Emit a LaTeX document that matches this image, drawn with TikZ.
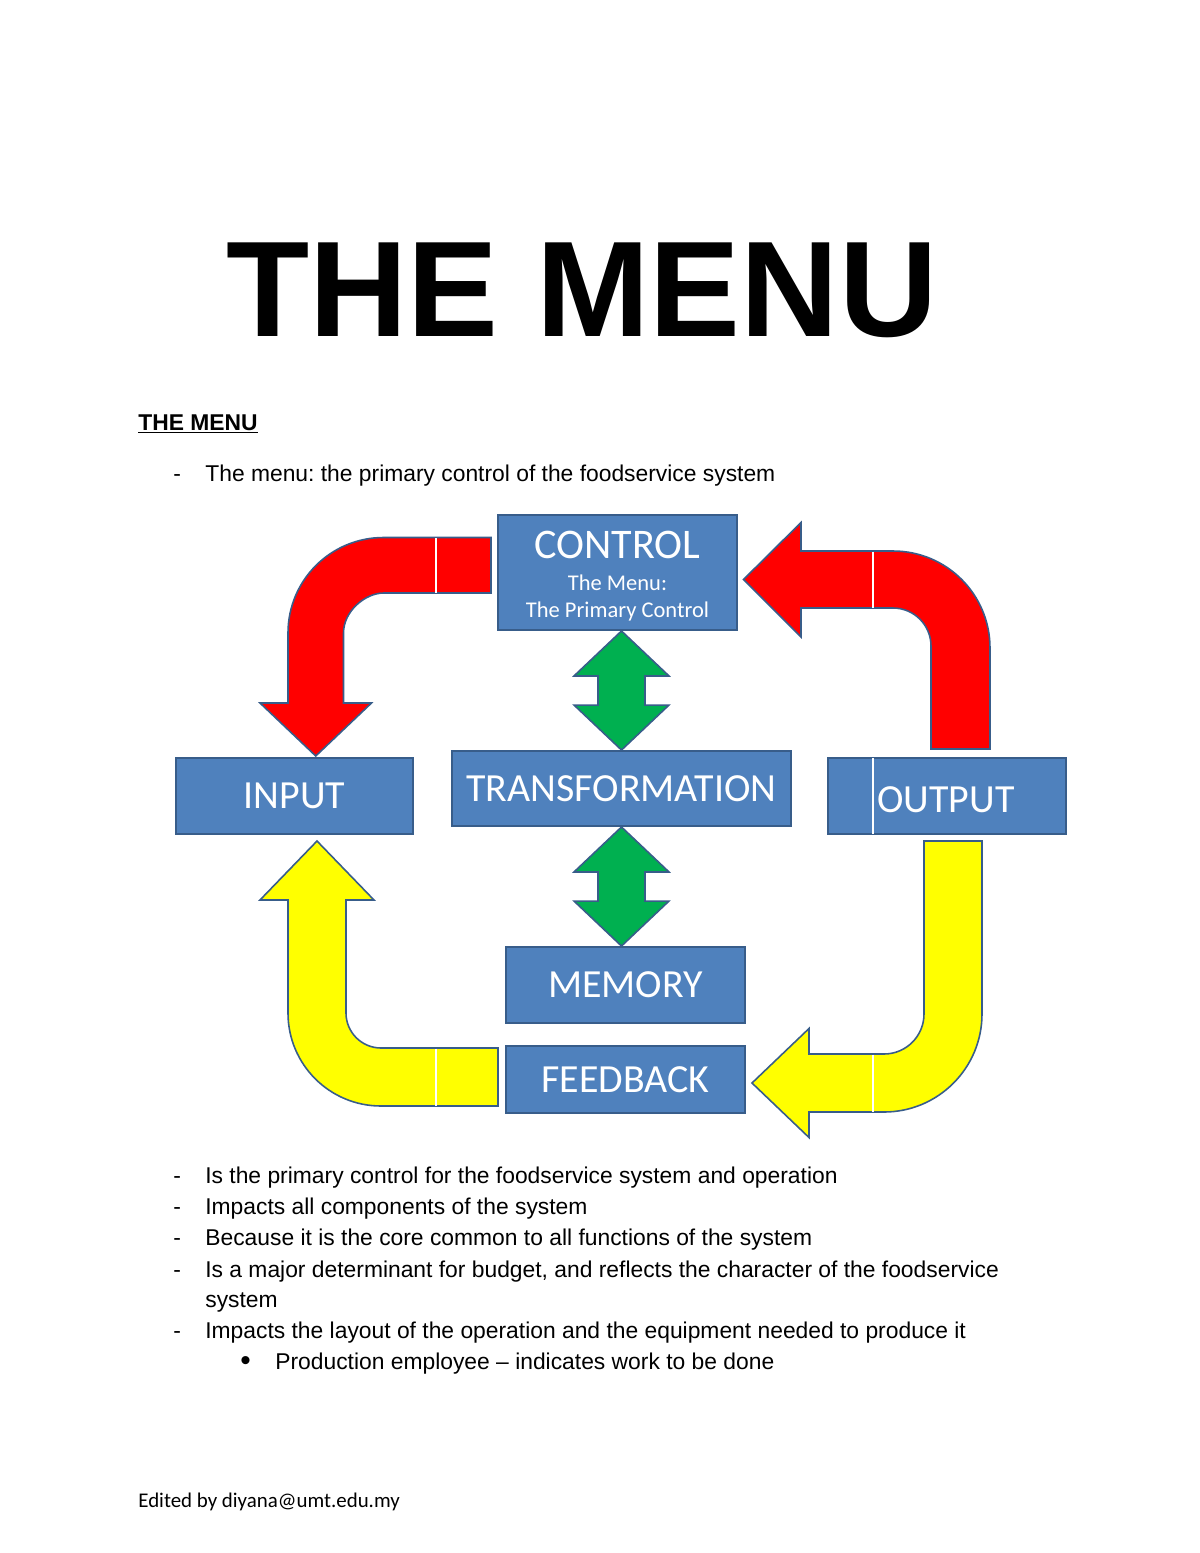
\documentclass[tikz,border=0pt]{standalone}
\usepackage{fontspec}
\setmainfont{Liberation Sans}
\newfontfamily\carlito{Carlito}
\usepackage{tikz}
\usetikzlibrary{calc}
\definecolor{boxblue}{HTML}{4F81BD}
\definecolor{boxedge}{HTML}{385D8A}
\definecolor{arrowedge}{HTML}{385D8A}
\definecolor{menured}{HTML}{FF0000}
\definecolor{menuyellow}{HTML}{FFFF00}
\definecolor{menugreen}{HTML}{00B050}
\def\px{0.02cm}
\frenchspacing
\tikzset{
  blk/.style={draw=boxedge, fill=boxblue, line width=1.1pt, inner sep=0pt,
    text=white, font=\carlito\fontsize{22.7}{26}\selectfont},
  boxtxt/.style={inner sep=0pt, text=white, anchor=base},
  bigarrow/.style={draw=arrowedge, line width=0.9pt, line join=miter},
  seam/.style={draw=white, line width=1pt},
  bodytxt/.style={anchor=base west, inner sep=0pt, font=\fontsize{13}{15}\selectfont},
}
\begin{document}
\begin{tikzpicture}[x=\px, y=-\px]
\fill[white] (0,0) rectangle (1200,1553);
\useasboundingbox (0,0) rectangle (1200,1553);

% headings
\node[anchor=base, inner sep=0pt, font=\bfseries\fontsize{77.5}{80}\selectfont] (title) at (582,336) {THE MENU};
\node[anchor=base west, inner sep=0pt, font=\bfseries\fontsize{13}{15}\selectfont] (head) at (138,430) {\underline{THE MENU}};
\node[bodytxt] (dash0) at (173,481) {-};
\node[bodytxt] (intro) at (205,481) {The menu: the primary control of the foodservice system};

% boxes
\node[blk, minimum width=239*\px, minimum height=115*\px] (control) at (617.5,572.5) {};
\node[blk, minimum width=237*\px, minimum height=76*\px] (input) at (294.5,796) {INPUT};
\node[blk, minimum width=339*\px, minimum height=75*\px] (transf) at (621.5,788.5) {TRANSFORMATION};
\node[blk, minimum width=238*\px, minimum height=76*\px] (output) at (947,796) {};
\node[blk, minimum width=239*\px, minimum height=76*\px] (memory) at (625.5,985) {MEMORY};
\node[blk, minimum width=239*\px, minimum height=67*\px] (feedback) at (625.5,1079.5) {FEEDBACK};

\node[boxtxt, font=\carlito\fontsize{24}{26}\selectfont] (ctltitle) at (617.5,558.5) {CONTROL};
\node[boxtxt, font=\carlito\fontsize{12.8}{14}\selectfont] (ctlsub1) at (617.5,590) {The Menu:};
\node[boxtxt, font=\carlito\fontsize{12.8}{14}\selectfont] (ctlsub2) at (617.5,617) {The Primary Control};
\draw[seam] (873,758) -- (873,834);
\node[boxtxt, anchor=base west, font=\carlito\fontsize{22.7}{26}\selectfont] (outtxt) at (877,812) {OUTPUT};

% green double arrows
\foreach \a/\b in {control/transf, transf/memory}{
  \coordinate (A) at (\a.south -| transf.north);
  \coordinate (B) at (\b.north -| transf.north);
  \draw[bigarrow, fill=menugreen] (A) -- ($(A)+(47.5,45)$) -- ($(A)+(23.5,45)$)
    -- ($(B)+(23.5,-45)$) -- ($(B)+(47.5,-45)$) -- (B) -- ($(B)+(-47.5,-45)$)
    -- ($(B)+(-23.5,-45)$) -- ($(A)+(-23.5,45)$) -- ($(A)+(-47.5,45)$) -- cycle;
}

% red: control -> input
\draw[bigarrow, fill=menured] (491,537.5) -- (383.5,537.5)
  .. controls (330.8,537.5) and (288,580.2) .. (288,633) -- (288,703) -- (260,703)
  -- (315.75,756) -- (371.5,703) -- (343.5,703) -- (343.5,633)
  .. controls (343.5,610.9) and (365.6,593) .. (383.5,593) -- (491,593) -- cycle;
\draw[seam] (436,538) -- (436,592.5);

% red: output -> control
\draw[bigarrow, fill=menured] (931,749) -- (931,646)
  .. controls (931,625) and (914,608) .. (893,608) -- (801,608) -- (801,637)
  -- (743.5,579.5) -- (801,522.5) -- (801,551) -- (893,551)
  .. controls (946.6,551) and (990,594.4) .. (990,648) -- (990,749) -- cycle;
\draw[seam] (873,551.5) -- (873,607.5);

% yellow: feedback -> input
\draw[bigarrow, fill=menuyellow] (498,1106) -- (381,1106)
  .. controls (329.6,1106) and (288,1064.4) .. (288,1013) -- (288,900) -- (260,900)
  -- (317,841) -- (374,900) -- (346,900) -- (346,1013)
  .. controls (346,1032.3) and (361.7,1048) .. (381,1048) -- (498,1048) -- cycle;
\draw[seam] (436,1048.5) -- (436,1105.5);

% yellow: output -> feedback
\draw[bigarrow, fill=menuyellow] (924,841) -- (982,841) -- (982,1014)
  .. controls (982,1068.1) and (938.1,1112) .. (884,1112) -- (809,1112) -- (809,1137.5)
  -- (752,1083) -- (809,1028.5) -- (809,1054) -- (884,1054)
  .. controls (906.1,1054) and (924,1036.1) .. (924,1014) -- cycle;
\draw[seam] (873,1054.5) -- (873,1111.5);

% points below the diagram
\foreach \i/\yy/\txt in {1/1183/{Is the primary control for the foodservice system and operation},
    2/1214/{Impacts all components of the system},
    3/1245/{Because it is the core common to all functions of the system},
    4/1277/{Is a major determinant for budget, and reflects the character of the foodservice},
    6/1338/{Impacts the layout of the operation and the equipment needed to produce it}}{
  \node[bodytxt] (dash\i) at (173,\yy) {-};
  \node[bodytxt] (pt\i) at (205,\yy) {\txt};
}
\node[bodytxt] (pt5) at (205,1307) {system};
\node[anchor=base west, inner sep=0pt, font=\fontsize{17}{17}\selectfont] (dot7) at (240,1370) {\textbullet};
\node[bodytxt] (pt7) at (275,1369) {Production employee -- indicates work to be done};

\node[anchor=base west, inner sep=0pt, font=\carlito\fontsize{11.9}{14}\selectfont] (footer) at (138,1507) {Edited by diyana@umt.edu.my};
\end{tikzpicture}
\end{document}
